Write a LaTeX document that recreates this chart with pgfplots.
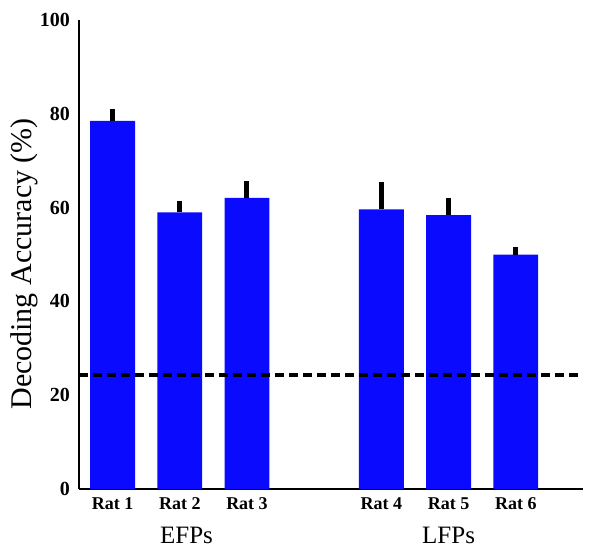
\documentclass[border=0pt]{standalone}
\usepackage{fontspec}
\setmainfont{Liberation Serif}
\usepackage{pgfplots}
\pgfplotsset{compat=1.18}

\begin{document}
\begin{tikzpicture}
\path[use as bounding box] (-39.5pt,-32pt) rectangle (260.5pt,244.5pt);
\begin{axis}[
  at={(0,0)}, anchor=south west,
  scale only axis,
  width=252pt, height=234.5pt,
  xmin=0.5, xmax=8,
  ymin=0, ymax=100,
  axis x line*=bottom, axis y line*=left,
  axis line style={line width=1pt, -},
  major tick length=0pt,
  xtick={1,2,3,5,6,7},
  xticklabels={Rat 1,Rat 2,Rat 3,Rat 4,Rat 5,Rat 6},
  ytick={0,20,40,60,80,100},
  /pgf/number format/assume math mode=true,
  x tick label style={font=\fontsize{9}{10}\selectfont\bfseries, yshift=-1pt},
  y tick label style={font=\fontsize{10}{11}\selectfont\bfseries, xshift=-1pt},
  ylabel={Decoding Accuracy (\%)},
  ylabel style={font=\fontsize{15}{16}\selectfont, at={(ticklabel cs:0.48)}, yshift=-6pt},
  clip=false,
]
\addplot[ybar, bar width=0.667, fill={rgb,255:red,10;green,10;blue,255}, draw=none,
  error bars/.cd, y dir=plus, y explicit, error mark=none,
  error bar style={line width=2.5pt, black}]
  coordinates {
    (1,78.5) +- (0,2.6)
    (2,59.0) +- (0,2.5)
    (3,62.1) +- (0,3.6)
    (5,59.6) +- (0,5.8)
    (6,58.4) +- (0,3.6)
    (7,50.0) +- (0,1.7)
  };
\addplot[black, line width=2pt, dash pattern=on 4.5pt off 2.5pt]
  coordinates {(0.5,24.3) (8,24.3)};
\node[font=\fontsize{12.5}{13}\selectfont, anchor=center] at (axis cs:2.1,-9.8) {EFPs};
\node[font=\fontsize{12.5}{13}\selectfont, anchor=center] at (axis cs:6,-9.8) {LFPs};
\end{axis}
\end{tikzpicture}
\end{document}
